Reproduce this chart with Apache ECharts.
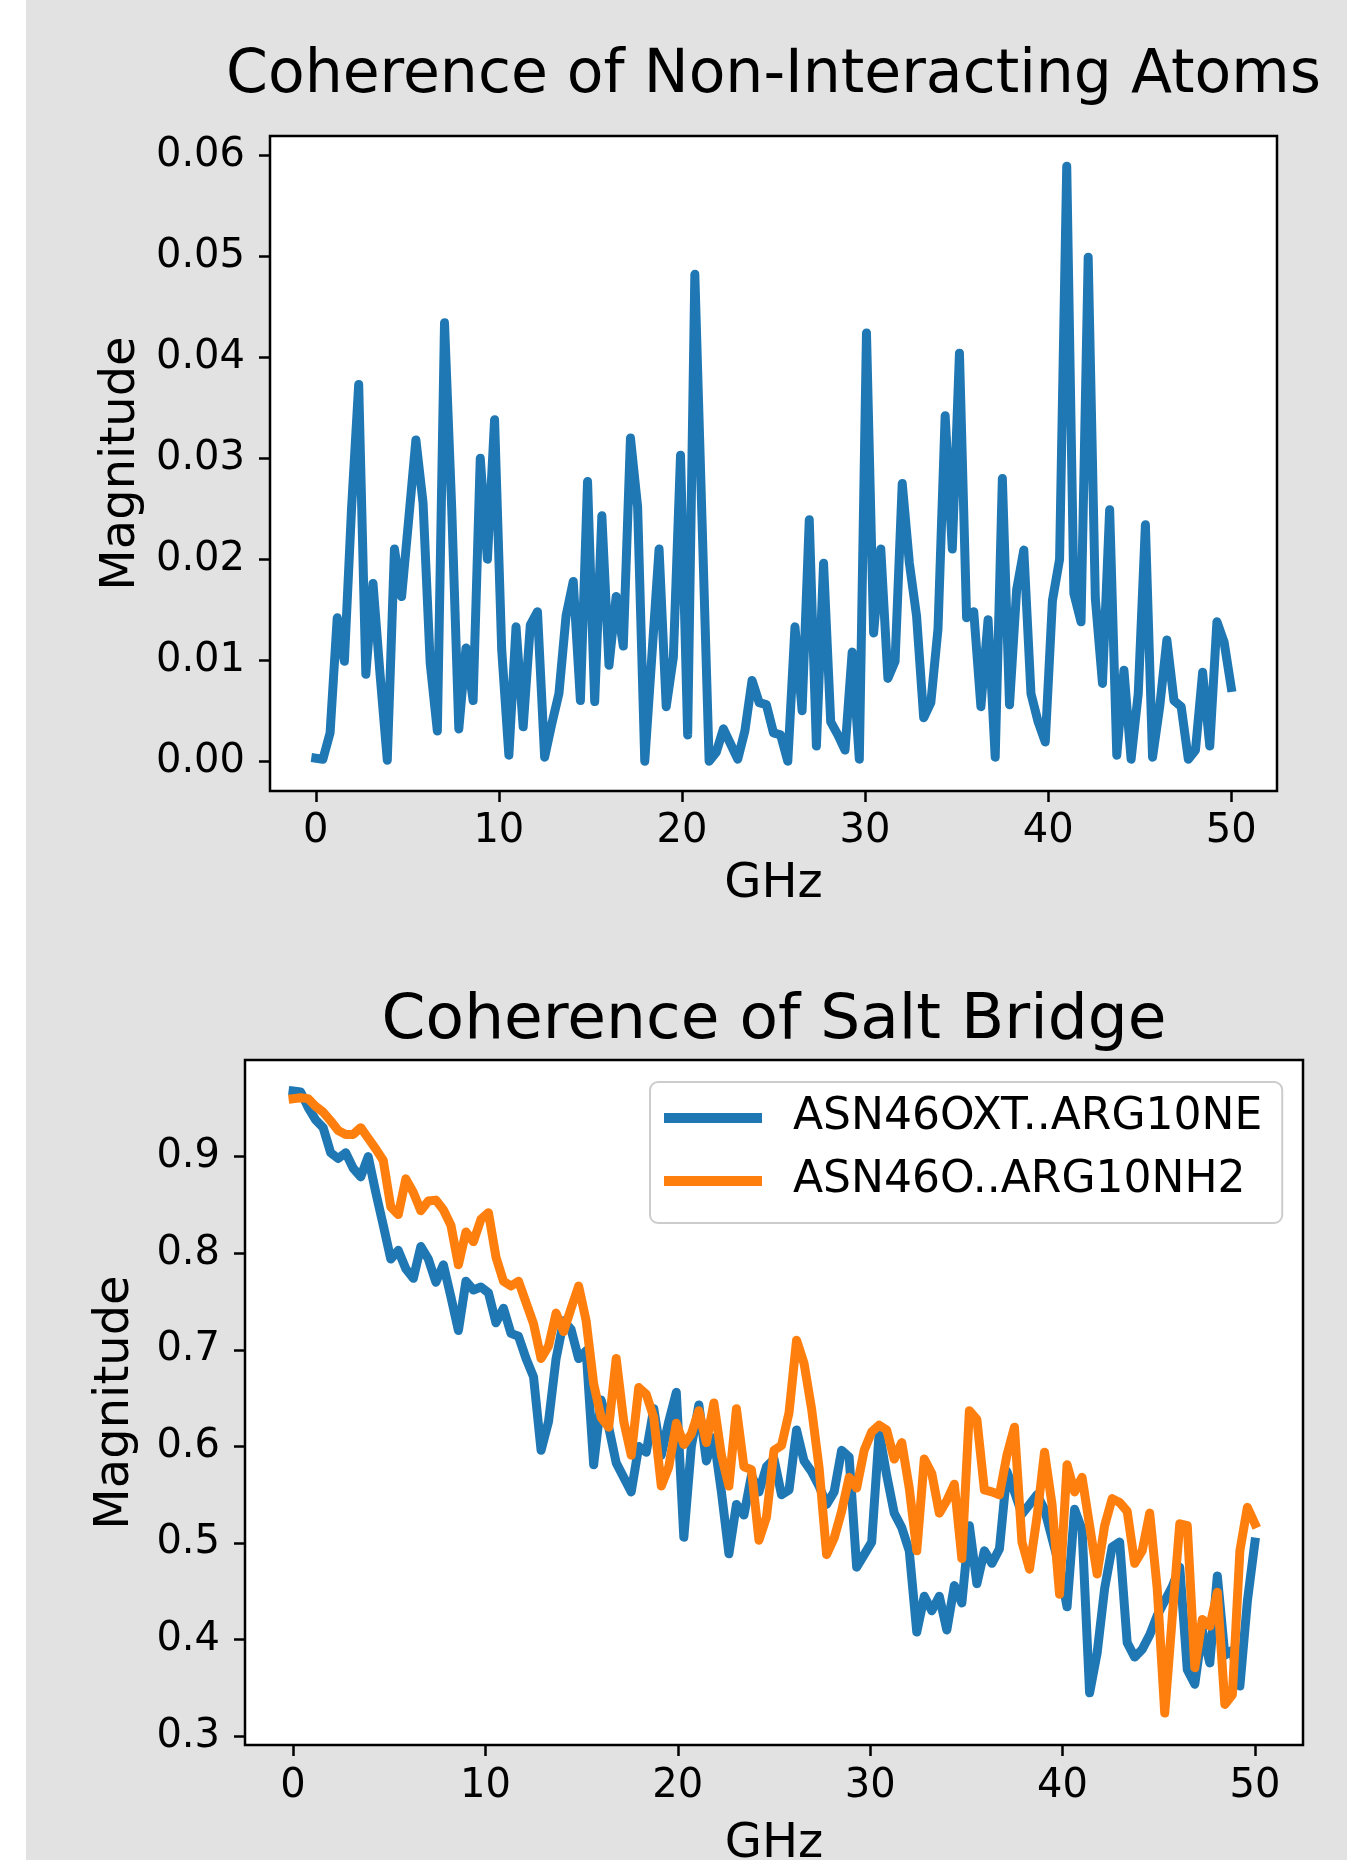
<!DOCTYPE html>
<html>
<head>
<meta charset="utf-8">
<script src="https://cdn.jsdelivr.net/npm/echarts@6/dist/echarts.min.js"></script>
<style>
  html, body { margin: 0; padding: 0; background: #fff; }
  #chart { width: 1347px; height: 1860px; }
</style>
</head>
<body>
<div id="chart"></div>
<script>
// frequency grid: 129 samples from 0 to 50 GHz
var freqStep = 50 / 128;

// Coherence of Non-Interacting Atoms
var atomsMagnitude = [
  0.0003, 0.0002, 0.0028, 0.0142, 0.0099, 0.025, 0.0373, 0.0086, 0.0176, 0.0085,
  0.0001, 0.021, 0.0163, 0.024, 0.0318, 0.0256, 0.0097, 0.003, 0.0434, 0.0252,
  0.0032, 0.0112, 0.006, 0.030, 0.020, 0.0338, 0.011, 0.0006, 0.0133, 0.0034,
  0.0135, 0.0148, 0.0004, 0.0037, 0.0067, 0.0144, 0.0178, 0.006, 0.0277, 0.0059,
  0.0243, 0.0095, 0.0163, 0.0114, 0.032, 0.0252, 0.0, 0.0105, 0.021, 0.0054,
  0.0103, 0.0303, 0.0026, 0.0482, 0.024, 0.0, 0.0009, 0.0032, 0.0017, 0.0002,
  0.003, 0.008, 0.0058, 0.0056, 0.0028, 0.0026, 0.0, 0.0133, 0.005, 0.0239,
  0.0015, 0.0196, 0.0039, 0.0026, 0.0011, 0.0108, 0.0002, 0.0424, 0.0127, 0.021,
  0.0082, 0.0099, 0.0275, 0.0196, 0.0144, 0.0043, 0.0058, 0.0131, 0.0342, 0.021,
  0.0404, 0.0142, 0.0148, 0.0054, 0.014, 0.0004, 0.028, 0.0056, 0.017, 0.0209,
  0.0067, 0.0039, 0.0019, 0.0159, 0.02, 0.0589, 0.0166, 0.0138, 0.0499, 0.0161,
  0.0077, 0.0249, 0.0006, 0.009, 0.0002, 0.0067, 0.0234, 0.0004, 0.0054, 0.012,
  0.006, 0.0054, 0.0002, 0.0011, 0.0088, 0.0015, 0.0138, 0.0118, 0.0073
];

// Coherence of Salt Bridge
var oxtNe = [
  0.968, 0.967, 0.951, 0.938, 0.930, 0.904, 0.898, 0.904, 0.888, 0.879,
  0.900, 0.863, 0.829, 0.794, 0.803, 0.784, 0.774, 0.807, 0.794, 0.770,
  0.788, 0.755, 0.720, 0.771, 0.762, 0.765, 0.759, 0.728, 0.743, 0.717,
  0.714, 0.691, 0.672, 0.596, 0.626, 0.691, 0.730, 0.721, 0.691, 0.699,
  0.581, 0.648, 0.620, 0.583, 0.568, 0.553, 0.600, 0.594, 0.639, 0.591,
  0.626, 0.656, 0.506, 0.600, 0.643, 0.585, 0.609, 0.553, 0.489, 0.540,
  0.529, 0.570, 0.553, 0.579, 0.587, 0.550, 0.555, 0.617, 0.585, 0.574,
  0.559, 0.540, 0.553, 0.596, 0.589, 0.475, 0.488, 0.501, 0.615, 0.570,
  0.531, 0.516, 0.492, 0.408, 0.445, 0.430, 0.445, 0.410, 0.456, 0.438,
  0.518, 0.458, 0.492, 0.479, 0.494, 0.574, 0.553, 0.530, 0.540, 0.550,
  0.535, 0.505, 0.475, 0.434, 0.535, 0.514, 0.345, 0.386, 0.453, 0.496,
  0.501, 0.397, 0.382, 0.390, 0.405, 0.425, 0.440, 0.455, 0.475, 0.369,
  0.354, 0.410, 0.376, 0.466, 0.384, 0.389, 0.352, 0.440, 0.501
];
var oNh2 = [
  0.960, 0.961, 0.960, 0.952, 0.946, 0.937, 0.927, 0.923, 0.923, 0.930,
  0.919, 0.908, 0.896, 0.848, 0.840, 0.877, 0.863, 0.844, 0.854, 0.855,
  0.845, 0.829, 0.788, 0.822, 0.812, 0.835, 0.842, 0.796, 0.771, 0.766,
  0.771, 0.749, 0.727, 0.691, 0.704, 0.738, 0.719, 0.743, 0.766, 0.730,
  0.665, 0.630, 0.620, 0.691, 0.626, 0.591, 0.661, 0.654, 0.630, 0.559,
  0.579, 0.624, 0.602, 0.613, 0.637, 0.604, 0.645, 0.591, 0.559, 0.639,
  0.579, 0.576, 0.503, 0.527, 0.596, 0.601, 0.635, 0.710, 0.686, 0.639,
  0.578, 0.488, 0.505, 0.533, 0.568, 0.557, 0.596, 0.615, 0.622, 0.617,
  0.587, 0.604, 0.557, 0.492, 0.587, 0.572, 0.531, 0.544, 0.561, 0.484,
  0.637, 0.628, 0.555, 0.553, 0.550, 0.591, 0.620, 0.501, 0.473, 0.527,
  0.594, 0.540, 0.447, 0.581, 0.553, 0.568, 0.518, 0.468, 0.518, 0.546,
  0.542, 0.533, 0.479, 0.492, 0.531, 0.453, 0.324, 0.423, 0.520, 0.518,
  0.371, 0.421, 0.414, 0.449, 0.333, 0.343, 0.492, 0.537, 0.520
];

var xTicks = [0, 10, 20, 30, 40, 50];
var atomsTicks = [0, 0.01, 0.02, 0.03, 0.04, 0.05, 0.06];
var bridgeTicks = [0.3, 0.4, 0.5, 0.6, 0.7, 0.8, 0.9];

var FONT = "DejaVu Sans";

function pairs(values) {
  return values.map(function (v, i) { return [i * freqStep, v]; });
}

function xAxisFor(gridIndex, labelMargin, nameGap) {
  return {
    type: "value", gridIndex: gridIndex, min: -2.5, max: 52.5,
    name: "GHz", nameLocation: "middle", nameGap: nameGap,
    nameTextStyle: { fontFamily: FONT, fontSize: 48, color: "#000" },
    axisLine: { show: false, onZero: false },
    axisTick: { show: true, length: 11, customValues: xTicks, lineStyle: { color: "#000", width: 2.5 } },
    axisLabel: { customValues: xTicks, margin: labelMargin, fontFamily: FONT, fontSize: 40, color: "#000" },
    splitLine: { show: false }
  };
}

function yAxisFor(gridIndex, min, max, ticks, digits, gap) {
  return {
    type: "value", gridIndex: gridIndex, min: min, max: max,
    name: "Magnitude", nameLocation: "middle", nameRotate: 90, nameGap: gap,
    nameTextStyle: { fontFamily: FONT, fontSize: 48, color: "#000" },
    axisLine: { show: false, onZero: false },
    axisTick: { show: true, length: 11, customValues: ticks, lineStyle: { color: "#000", width: 2.5 } },
    axisLabel: {
      customValues: ticks, margin: 25, fontFamily: FONT, fontSize: 40, color: "#000",
      formatter: function (v) { return v.toFixed(digits); }
    },
    splitLine: { show: false }
  };
}

function lineStyle(color) {
  return { width: 9, color: color, join: "round", cap: "square" };
}

var chart = echarts.init(document.getElementById("chart"), null, { renderer: "canvas" });

var option = {
  backgroundColor: "#e2e2e2",
  animation: false,
  graphic: [
    { type: "rect", shape: { x: 0, y: 0, width: 26, height: 1860 }, style: { fill: "#fff" } },
    {
      type: "text", x: 773.5, y: 76.5,
      style: { text: "Coherence of Non-Interacting Atoms", font: "60px '" + FONT + "'", fill: "#000", align: "center", verticalAlign: "middle" }
    },
    {
      type: "text", x: 774, y: 1022,
      style: { text: "Coherence of Salt Bridge", font: "63px '" + FONT + "'", fill: "#000", align: "center", verticalAlign: "middle" }
    }
  ],
  grid: [
    {
      left: 270, top: 136, width: 1007, height: 655, containLabel: false, outerBoundsMode: "none",
      show: true, backgroundColor: "#fff", borderColor: "#000", borderWidth: 2.5
    },
    {
      left: 245, top: 1060, width: 1058, height: 685, containLabel: false, outerBoundsMode: "none",
      show: true, backgroundColor: "#fff", borderColor: "#000", borderWidth: 2.5
    }
  ],
  xAxis: [xAxisFor(0, 21, 70), xAxisFor(1, 22, 76)],
  yAxis: [
    yAxisFor(0, -0.00295, 0.0619, atomsTicks, 2, 121),
    yAxisFor(1, 0.291, 1.0, bridgeTicks, 1, 105)
  ],
  legend: {
    data: ["ASN46OXT..ARG10NE", "ASN46O..ARG10NH2"],
    left: 650, top: 1082, orient: "vertical",
    icon: "rect", itemWidth: 98, itemHeight: 10, itemGap: 19,
    padding: [14, 20, 20, 14],
    backgroundColor: "#fff", borderColor: "#cccccc", borderWidth: 2, borderRadius: 8,
    textStyle: { fontFamily: FONT, fontSize: 44, color: "#000", padding: [0, 0, 0, 26] }
  },
  series: [
    {
      type: "line", xAxisIndex: 0, yAxisIndex: 0, data: pairs(atomsMagnitude),
      symbol: "none", color: "#1f77b4", lineStyle: lineStyle("#1f77b4")
    },
    {
      name: "ASN46OXT..ARG10NE", type: "line", xAxisIndex: 1, yAxisIndex: 1, data: pairs(oxtNe),
      symbol: "none", color: "#1f77b4", lineStyle: lineStyle("#1f77b4")
    },
    {
      name: "ASN46O..ARG10NH2", type: "line", xAxisIndex: 1, yAxisIndex: 1, data: pairs(oNh2),
      symbol: "none", color: "#ff7f0e", lineStyle: lineStyle("#ff7f0e")
    }
  ]
};

chart.setOption(option);
</script>
</body>
</html>
